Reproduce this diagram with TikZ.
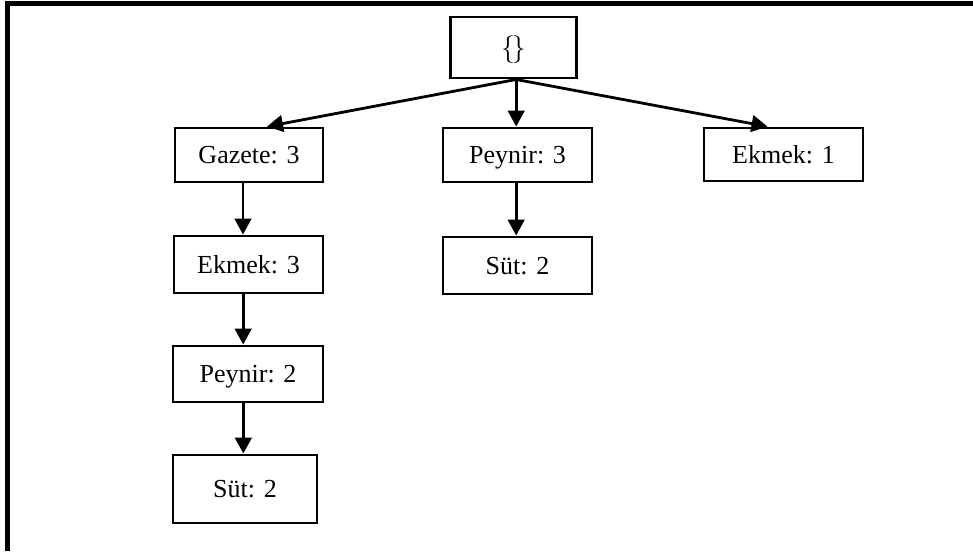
\documentclass[tikz,border=0pt]{standalone}
\usepackage{fontspec}
\setmainfont{Liberation Serif}
\usetikzlibrary{arrows.meta}
\begin{document}
\begin{tikzpicture}[x=0.75pt,y=-0.75pt,
  itembox/.style={draw=black,line width=2.2pt,fill=white,inner sep=0pt,
    text height=13pt,text depth=0pt,
    font=\fontsize{19.5}{22}\selectfont},
  link/.style={line width=2.1pt,-{Triangle[length=12pt,width=12.5pt]}}]
\useasboundingbox (0,0) rectangle (973,551);
% outer frame (top and left edges)
\draw[line width=3.2pt] (973,3.5) -- (7.5,3.5) -- (7.5,551);
% tree nodes
\node[itembox,minimum width=95pt,minimum height=45.75pt] (root) at (513.5,47.5) {$\{\mkern-2mu\}$};
\node[itembox,minimum width=111pt,minimum height=40.5pt] (gz) at (249,155) {Gazete: 3};
\node[itembox,minimum width=111.75pt,minimum height=40.5pt] (py3) at (517.5,155) {Peynir: 3};
\node[itembox,minimum width=119.25pt,minimum height=39.75pt] (ek1) at (783.5,154.5) {Ekmek: 1};
\node[itembox,minimum width=111.75pt,minimum height=42.75pt] (ek3) at (248.5,264.5) {Ekmek: 3};
\node[itembox,minimum width=111.75pt,minimum height=42.75pt] (st2m) at (517.5,265.5) {Süt: 2};
\node[itembox,minimum width=112.5pt,minimum height=42pt] (py2) at (248,374) {Peynir: 2};
\node[itembox,minimum width=108pt,minimum height=51pt] (st2b) at (245,489) {Süt: 2};
% connectors
\draw[link] ([xshift=2pt]root.south) -- ([xshift=13.5pt]gz.north);
\draw[link] ([xshift=2pt]root.south) -- ([xshift=-1pt]py3.north);
\draw[link] ([xshift=2pt]root.south) -- ([xshift=-12pt]ek1.north);
\draw[link] ([xshift=-4.5pt]gz.south) -- ([xshift=-4.5pt]gz.south |- ek3.north);
\draw[link] ([xshift=-1pt]py3.south) -- ([xshift=-1pt]py3.south |- st2m.north);
\draw[link] ([xshift=-4pt]ek3.south) -- ([xshift=-4pt]ek3.south |- py2.north);
\draw[link] ([xshift=-3.5pt]py2.south) -- ([xshift=-3.5pt]py2.south |- st2b.north);
\end{tikzpicture}
\end{document}
